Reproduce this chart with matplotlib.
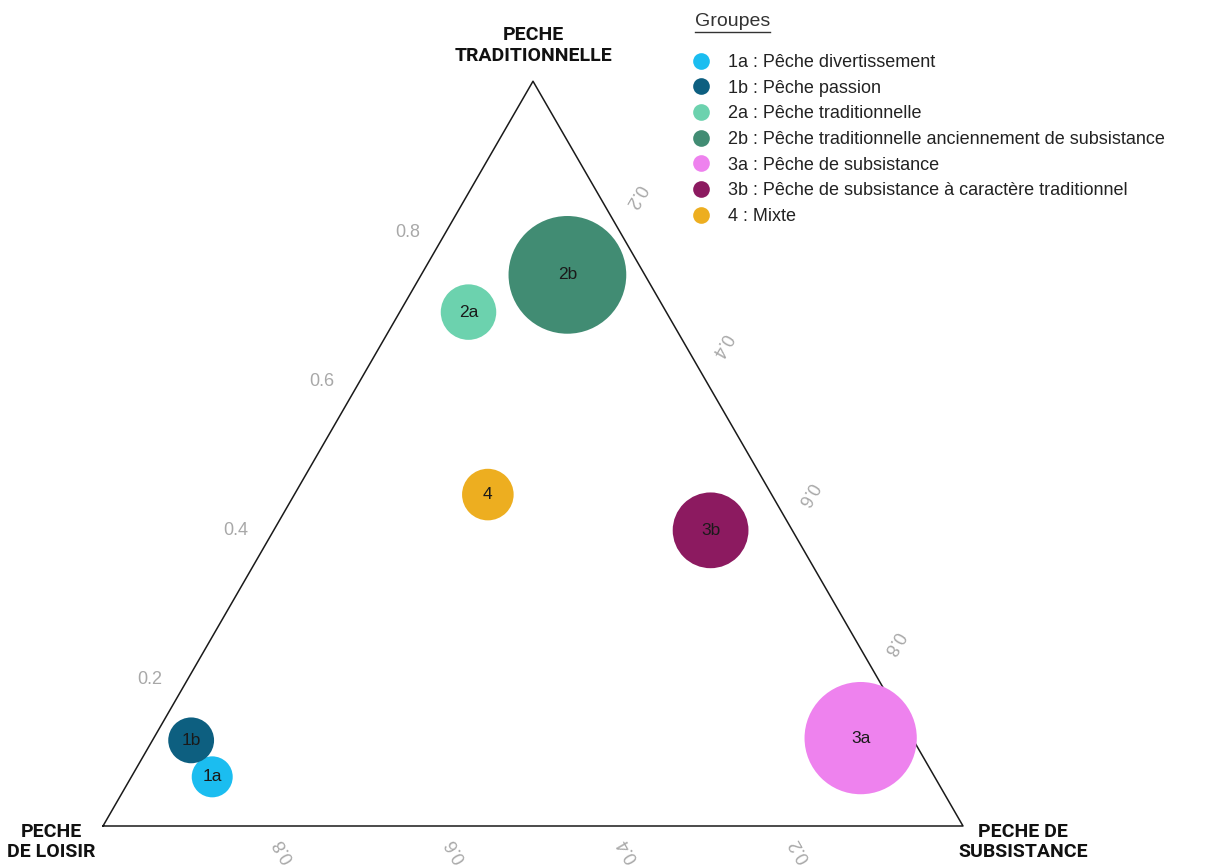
import numpy as np
import matplotlib
matplotlib.use("Agg")
import matplotlib.pyplot as plt
from matplotlib.lines import Line2D

# groupes de pêcheurs, composition (loisir, traditionnelle, subsistance)
groupes = ["1a", "1b", "2a", "2b", "3a", "3b", "4"]
libelles = ["1a : Pêche divertissement",
            "1b : Pêche passion",
            "2a : Pêche traditionnelle",
            "2b : Pêche traditionnelle anciennement de subsistance",
            "3a : Pêche de subsistance",
            "3b : Pêche de subsistance à caractère traditionnel",
            "4 : Mixte"]
loisir = [0.84, 0.84, 0.23, 0.09, 0.06, 0.095, 0.33]
tradi = [0.066, 0.115, 0.69, 0.74, 0.118, 0.397, 0.445]
subsis = [0.094, 0.045, 0.08, 0.17, 0.822, 0.508, 0.225]
effectifs = [12, 15, 22, 99, 90, 41, 19]
couleurs = ["#1bbdf0", "#0d5f80", "#6cd2ae", "#418c73", "#ee82ee", "#8c1a60", "#edae20"]
graduations = [0.2, 0.4, 0.6, 0.8]

S3 = np.sqrt(3) / 2
PX = 1 / 860  # un pixel en unités de triangle


def to_xy(l, t, s):
    l, t, s = np.asarray(l), np.asarray(t), np.asarray(s)
    tot = l + t + s
    t, s = t / tot, s / tot
    return s + t / 2, t * S3


plt.rcParams["font.family"] = ["Liberation Sans", "DejaVu Sans"]

fig = plt.figure(figsize=(12.15, 8.66), dpi=100)
ax = fig.add_axes([0, 0, 1, 1])
ax.set_xlim(-103 * PX, 1112 * PX)
ax.set_ylim(-40 * PX, 826 * PX)
ax.axis("off")

# triangle
ax.plot([0, 1, 0.5, 0], [0, 0, S3, 0], color="#1a1a1a", lw=1.1, zorder=1)

# graduations
gris = "#a8a8a8"
for g in graduations:
    # gauche : traditionnelle
    x, y = to_xy(1 - g, g, 0)
    ax.text(x - 39 * PX, y - 2 * PX, f"{g:.1f}", color=gris, fontsize=13,
            ha="center", va="center")
    # droite : subsistance
    x, y = to_xy(0, 1 - g, g)
    ax.text(x + 16 * PX, y + 34 * PX, f"{g:.1f}", color=gris, fontsize=13,
            ha="center", va="center", rotation=240)
    # bas : loisir
    x, y = to_xy(g, 0, 1 - g)
    ax.text(x + 9 * PX, y - 24 * PX, f"{g:.1f}", color=gris, fontsize=13,
            ha="center", va="center", rotation=120)

# sommets
som = dict(fontsize=14, fontweight="bold", ha="center", va="center",
           linespacing=1.2, color="#111111", family=["Roboto", "DejaVu Sans"])
ax.text(0.5, S3 + 36 * PX, "PECHE\nTRADITIONNELLE", **som)
ax.text(-52 * PX, -16 * PX, "PECHE\nDE LOISIR", **som)
ax.text(1 + 60 * PX, -16 * PX, "PECHE DE\nSUBSISTANCE", **som)

# bulles
x, y = to_xy(loisir, tradi, subsis)
s = np.array(effectifs) * 35 * 1.44 ** 2
ax.scatter(x, y, s=s, c=couleurs, edgecolors="none", zorder=3)
for xi, yi, g in zip(x, y, groupes):
    ax.text(xi, yi, g, fontsize=12.5, ha="center", va="center",
            color="#1a1a1a", zorder=4)

# légende
titre = fig.text(695 / 1215, 1 - 22 / 866, "Groupes", fontsize=14,
                 color="#333333", ha="left", va="center")
handles = [Line2D([], [], ls="none", marker="o", markersize=12,
                  markerfacecolor=c, markeredgecolor="none") for c in couleurs]
leg = fig.legend(handles, libelles, loc="upper left",
                 bbox_to_anchor=(696 / 1215, 1 - 54 / 866), frameon=False,
                 fontsize=13, handlelength=0.6, handletextpad=1.2,
                 labelspacing=0.48, borderpad=0, borderaxespad=0)
for t in leg.get_texts():
    t.set_color("#222222")

fig.canvas.draw()
bb = titre.get_window_extent().transformed(fig.transFigure.inverted())
fig.add_artist(Line2D([bb.x0, bb.x1], [bb.y0 - 0.002, bb.y0 - 0.002],
                      transform=fig.transFigure, color="#333333", lw=1))

fig.savefig("out.png", dpi=100)
